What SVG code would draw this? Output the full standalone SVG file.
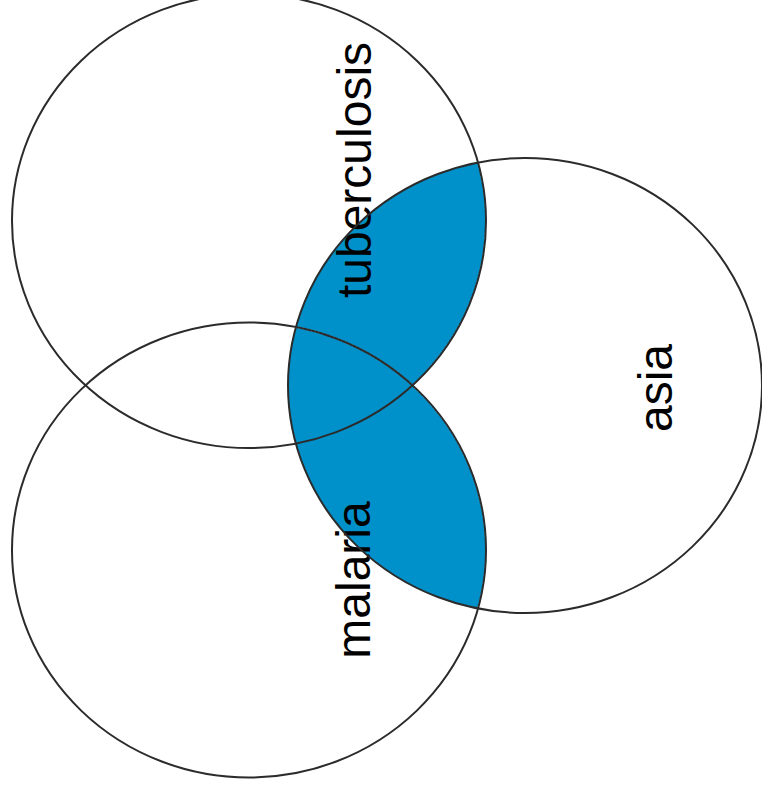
<svg xmlns="http://www.w3.org/2000/svg" width="762" height="794" viewBox="0 0 762 794">
<style>
.c{fill:none;stroke:#2b2b2b;stroke-width:2}
.b{fill:#0091CA;stroke:#fff;stroke-width:1.5;stroke-dasharray:2,2}
.t{font-family:"Liberation Sans",Arial,sans-serif;font-size:48px;fill:#000;text-anchor:middle}
</style>
<defs>
<clipPath id="asiaClip"><ellipse cx="525" cy="385.5" rx="237" ry="227.5"/></clipPath>
</defs>
<rect width="762" height="794" fill="#fff"/>
<g id="overlap" clip-path="url(#asiaClip)">
<ellipse class="b" cx="249" cy="221" rx="237" ry="227"/>
<ellipse class="b" cx="249" cy="550" rx="237" ry="227.5"/>
</g>
<g id="tuberculosis">
<ellipse class="c" cx="249" cy="221" rx="237" ry="227"/>
<text class="t" transform="translate(371,170) rotate(-90)">tuberculosis</text>
</g>
<g id="malaria">
<ellipse class="c" cx="249" cy="550" rx="237" ry="227.5"/>
<text class="t" transform="translate(370,580) rotate(-90)">malaria</text>
</g>
<g id="asia">
<ellipse class="c" cx="525" cy="385.5" rx="237" ry="227.5"/>
<text class="t" transform="translate(672,388) rotate(-90)">asia</text>
</g>
</svg>
